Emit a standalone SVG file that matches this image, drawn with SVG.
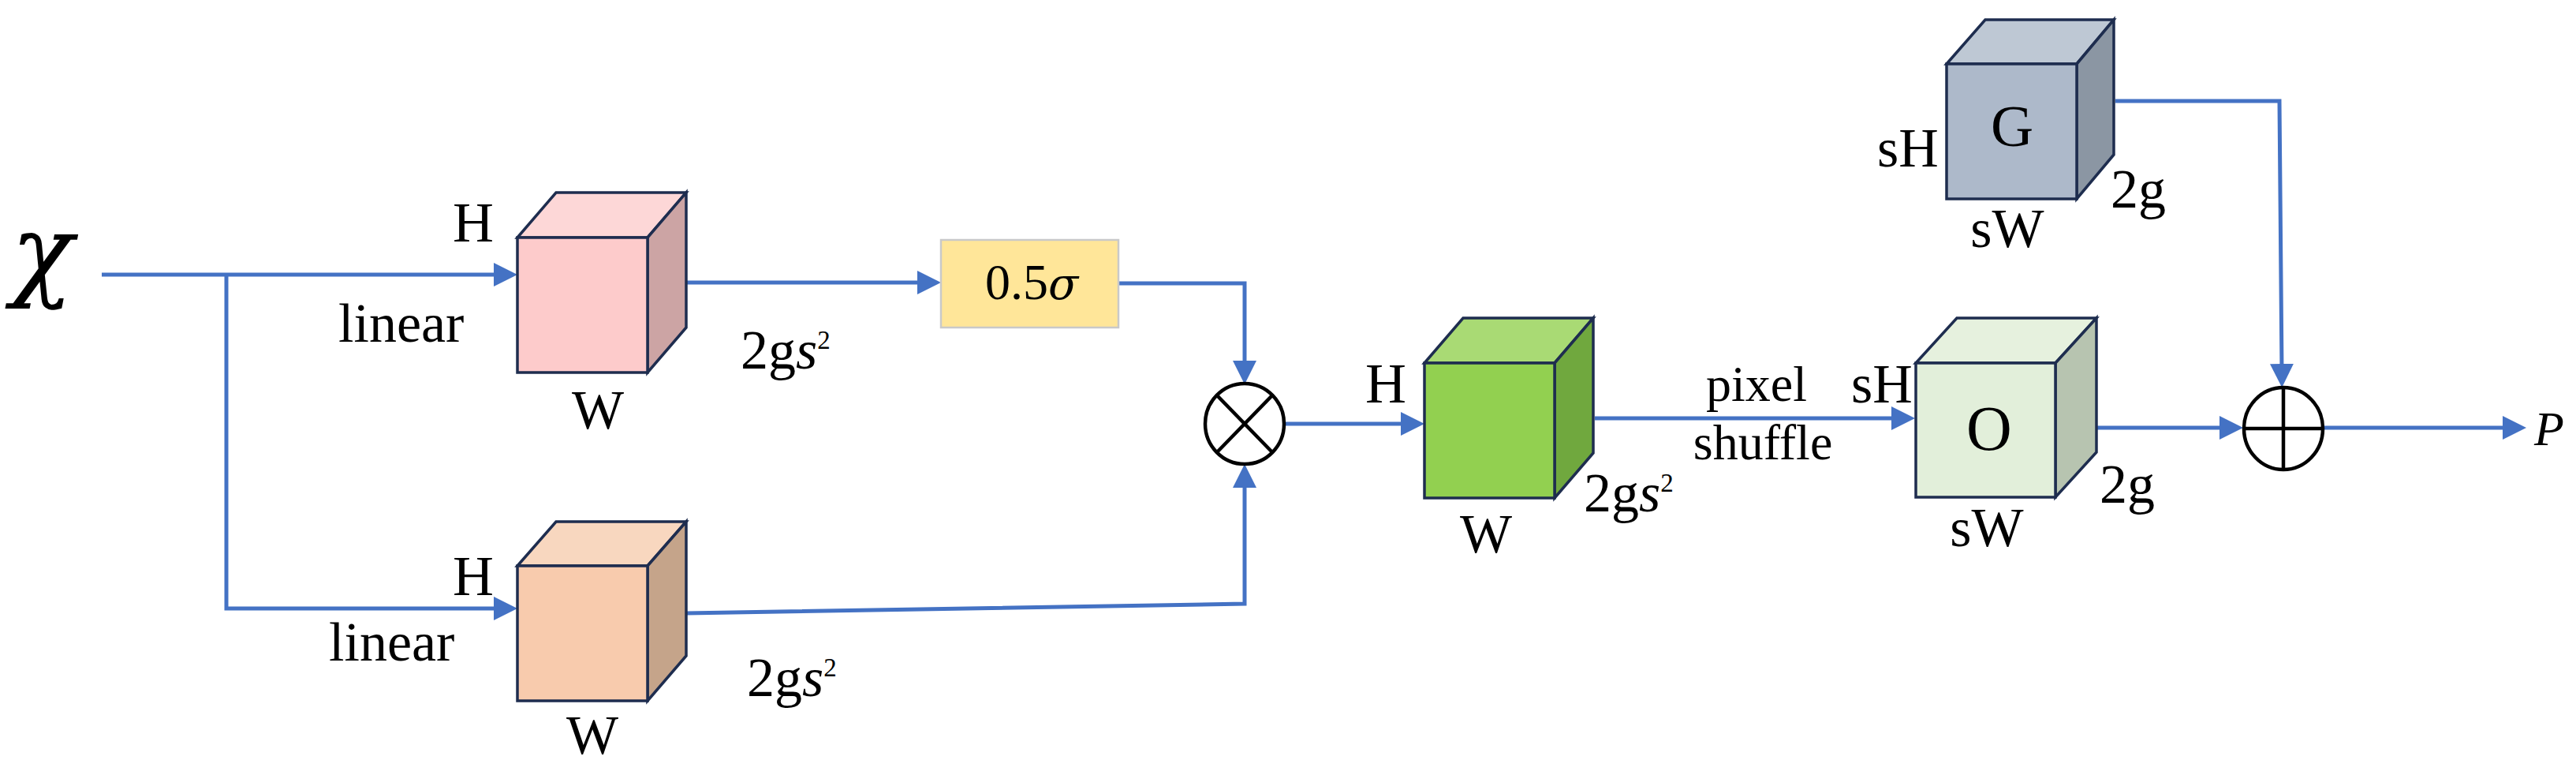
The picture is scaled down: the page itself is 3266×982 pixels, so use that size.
<svg xmlns="http://www.w3.org/2000/svg" width="3266" height="982" viewBox="0 0 3266 982">
<defs>
<style>
.t{font-family:"Liberation Serif","Times New Roman",serif;fill:#000;font-size:70px}
.i{font-style:italic}
.g{font-family:"DejaVu Serif",serif;font-style:italic}
.m{text-anchor:middle}
.c{fill:none;stroke:#4472C4;stroke-width:5;stroke-linejoin:miter}
.e{stroke:#1E2D4F;stroke-width:3.5;stroke-linejoin:miter}
.op{fill:#fff;stroke:#000;stroke-width:4.5}
.ol{stroke:#000;stroke-width:4.5}
.sup{font-size:33px}
</style>
<marker id="ah" markerUnits="userSpaceOnUse" markerWidth="30" markerHeight="30" refX="9" refY="15" orient="auto">
<path d="M0,0 L30,15 L0,30 z" fill="#4472C4"/>
</marker>
</defs>
<rect width="3266" height="982" fill="#fff"/>

<g id="connectors">
<path class="c" d="M129,348 H635" marker-end="url(#ah)"/>
<path class="c" d="M287,348 V771 H635" marker-end="url(#ah)"/>
<path class="c" d="M870,358 H1172" marker-end="url(#ah)"/>
<path class="c" d="M1418,359 H1578 V466" marker-end="url(#ah)"/>
<path class="c" d="M870,777 L1578,765 V609" marker-end="url(#ah)"/>
<path class="c" d="M1628,537 H1785" marker-end="url(#ah)"/>
<path class="c" d="M2022,530 H2407" marker-end="url(#ah)"/>
<path class="c" d="M2659,542 H2823" marker-end="url(#ah)"/>
<path class="c" d="M2682,128 H2890 L2893,470" marker-end="url(#ah)"/>
<path class="c" d="M2945,542 H3182" marker-end="url(#ah)"/>
<text class="t m" x="2227" y="508" style="font-size:64px">pixel</text>
<text class="t m" x="2235" y="582" style="font-size:64px">shuffle</text>
</g>

<g id="input-x">
<text class="t g" x="14" y="364" style="font-size:130px">χ</text>
</g>

<g id="cube-pink">
<polygon class="e" fill="#FDD7D7" points="656,301 705,244 870,244 821,301"/>
<polygon class="e" fill="#CCA4A4" points="821,301 870,244 870,415 821,472"/>
<rect class="e" fill="#FDCBCB" x="656" y="301" width="165" height="171"/>
<text class="t" x="574" y="306" style="font-size:72px">H</text>
<text class="t" x="429" y="433">linear</text>
<text class="t m" x="758" y="543">W</text>
<text class="t" x="939" y="467">2g<tspan class="i">s</tspan><tspan class="sup" dy="-25">2</tspan></text>
</g>

<g id="sigma-box">
<rect x="1193" y="304" width="225" height="111" fill="#FFE699" stroke="#C9C9C9" stroke-width="2.5"/>
<text class="t m" x="1308" y="379" style="font-size:64px">0.5<tspan class="g" style="font-size:56px">σ</tspan></text>
</g>

<g id="cube-peach">
<polygon class="e" fill="#F8D7BF" points="656,717 705,661 870,661 821,717"/>
<polygon class="e" fill="#C5A48A" points="821,717 870,661 870,831 821,888"/>
<rect class="e" fill="#F8CBAD" x="656" y="717" width="165" height="171"/>
<text class="t" x="574" y="754" style="font-size:72px">H</text>
<text class="t" x="417" y="837">linear</text>
<text class="t m" x="751" y="955">W</text>
<text class="t" x="947" y="882">2g<tspan class="i">s</tspan><tspan class="sup" dy="-25">2</tspan></text>
</g>

<g id="multiply">
<ellipse class="op" cx="1578" cy="537" rx="50" ry="51"/>
<line class="ol" x1="1543" y1="501" x2="1613" y2="573"/>
<line class="ol" x1="1613" y1="501" x2="1543" y2="573"/>
</g>

<g id="cube-green">
<polygon class="e" fill="#A9DA74" points="1806,460 1855,403 2020,403 1971,460"/>
<polygon class="e" fill="#70A83E" points="1971,460 2020,403 2020,574 1971,631"/>
<rect class="e" fill="#92D050" x="1806" y="460" width="165" height="171"/>
<text class="t" x="1731" y="510" style="font-size:72px">H</text>
<text class="t m" x="1884" y="700">W</text>
<text class="t" x="2008" y="648">2g<tspan class="i">s</tspan><tspan class="sup" dy="-25">2</tspan></text>
</g>

<g id="cube-O">
<polygon class="e" fill="#E6F1DE" points="2429,460 2481,403 2658,403 2606,460"/>
<polygon class="e" fill="#B7C4B0" points="2606,460 2658,403 2658,573 2606,630"/>
<rect class="e" fill="#E2EFDA" x="2429" y="460" width="177" height="170"/>
<text class="t m" x="2522" y="570" style="font-size:80px">O</text>
<text class="t" x="2347" y="510">sH</text>
<text class="t m" x="2519" y="692">sW</text>
<text class="t" x="2662" y="637">2g</text>
</g>

<g id="cube-G">
<polygon class="e" fill="#BEC8D4" points="2468,81 2517,25 2680,25 2633,81"/>
<polygon class="e" fill="#8B96A3" points="2633,81 2680,25 2680,196 2633,252"/>
<rect class="e" fill="#ADB9CA" x="2468" y="81" width="165" height="171"/>
<text class="t m" x="2551" y="185" style="font-size:75px">G</text>
<text class="t" x="2380" y="211">sH</text>
<text class="t m" x="2545" y="313">sW</text>
<text class="t" x="2676" y="263">2g</text>
</g>

<g id="add">
<ellipse class="op" cx="2895" cy="543" rx="50" ry="52"/>
<line class="ol" x1="2845" y1="543" x2="2945" y2="543"/>
<line class="ol" x1="2895" y1="491" x2="2895" y2="595"/>
</g>

<g id="output-P">
<text class="t i" x="3213" y="564" style="font-size:62px">P</text>
</g>
</svg>
